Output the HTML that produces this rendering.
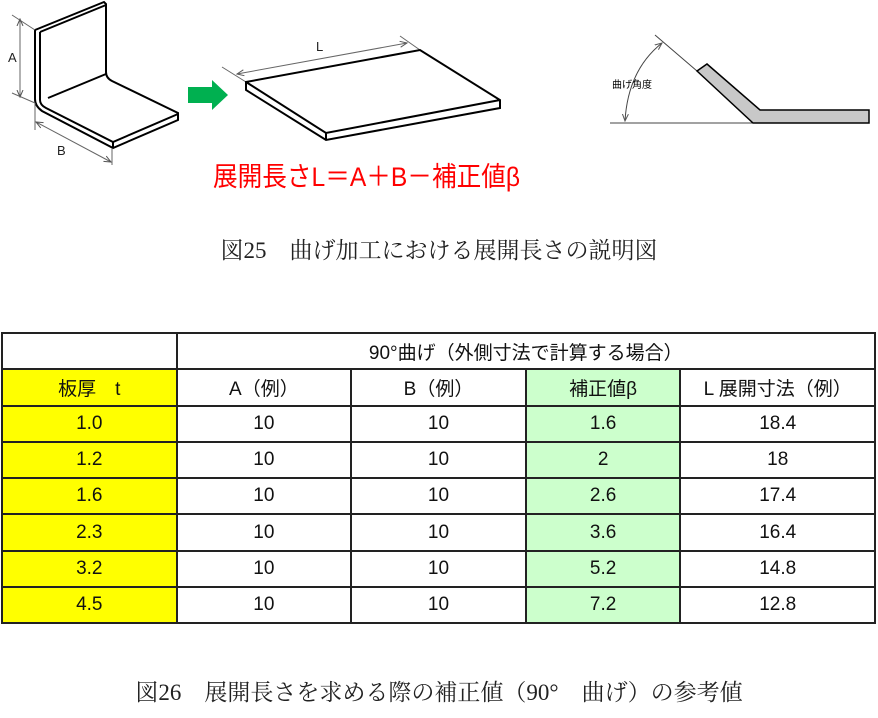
<!DOCTYPE html>
<html><head><meta charset="utf-8"><style>
body{margin:0;width:878px;height:718px;background:#fff;position:relative;overflow:hidden;font-family:"Liberation Sans","Noto Sans CJK JP",sans-serif}
.cap{position:absolute;left:0;width:878px;text-align:center;font-family:"Liberation Serif","Noto Serif CJK SC",serif;font-size:23px;color:#222}
table{position:absolute;left:1px;top:332px;border-collapse:collapse;width:875px}
td{border:2px solid #222;height:34.3px;padding:0;text-align:center;font-size:19px;color:#111}
.y{background:#ffff00}.g{background:#ccffcc}
</style></head><body>
<svg width="878" height="230" style="position:absolute;left:0;top:0" stroke="#000" fill="none">
<defs><marker id="a" markerWidth="8" markerHeight="8" refX="7" refY="4" orient="auto-start-reverse"><path d="M0,1 L7,4 L0,7" stroke="#555" stroke-width="1"/></marker></defs>
<g stroke-width="2">
<path d="M35,30 L104,2 L106,4 L106,72 Q106,78 112,81 L178,113 L178,120 L113,148 L42,111 Q35,106 35,99 Z" fill="#fff"/>
<path d="M40,32 L106,5 M40,32 L40,100 Q40,105 46,108 L113,142 L178,114 M113,142 L113,148 M48,98 L106,74"/>
</g>
<g stroke="#666" stroke-width="1">
<path d="M12,15 L35,30 M12,93 L35,103 M35,103 L35,130 M112,148 L112,165"/>
<path d="M20,19 L20,97" marker-start="url(#a)" marker-end="url(#a)"/>
<path d="M36,122 L111,162" marker-start="url(#a)" marker-end="url(#a)"/>
<path d="M222,67 L246,82 M400,36 L420,50"/>
<path d="M237,74 L407,43" marker-start="url(#a)" marker-end="url(#a)"/>
<path d="M324,69 L402,118" stroke-dasharray="8,2,1,2"/>
</g>
<g fill="#222" stroke="none" font-size="13" font-family="Liberation Sans,sans-serif">
<text x="8" y="62">A</text><text x="57" y="155">B</text><text x="316" y="51">L</text>
</g>
<path d="M188,87 L212,87 L212,80 L228,95 L212,110 L212,103 L188,103 Z" fill="#00b050" stroke="none"/>
<g stroke-width="2">
<path d="M246,82 L420,50 L500,100 L500,108 L326,140 L246,90 Z" fill="#fff"/>
<path d="M246,82 L326,133 L500,100 M326,133 L326,140"/>
</g>
<path d="M610,123 L755,123 M655,35 L697,71" stroke="#444" stroke-width="1"/>
<path d="M697,71 L707,64 L760,110 L869,110 L869,123 L753,123 Z" fill="#c8c8c8" stroke-width="1.5"/>
<path d="M625,121 Q628,70 662,43" stroke="#444" stroke-width="1" marker-start="url(#a)" marker-end="url(#a)"/>
<text x="612" y="88" font-size="10" fill="#000" stroke="none" font-family="Liberation Sans,Noto Sans CJK JP,sans-serif">曲げ角度</text>
<text x="213" y="186" font-size="27" fill="#ff0000" stroke="none" font-family="Liberation Sans,Noto Sans CJK JP,sans-serif" textLength="307" lengthAdjust="spacingAndGlyphs">展開長さL＝A＋B－補正値β</text>
</svg>
<div class="cap" style="top:232px">図25　曲げ加工における展開長さの説明図</div>
<table>
<colgroup><col style="width:175px"><col style="width:175px"><col style="width:175px"><col style="width:155px"><col style="width:195px"></colgroup>
<tr><td></td><td colspan="4">90°曲げ（外側寸法で計算する場合）</td></tr>
<tr><td class="y">板厚　t</td><td>A（例）</td><td>B（例）</td><td class="g">補正値β</td><td>L 展開寸法（例）</td></tr>
<tr><td class="y">1.0</td><td>10</td><td>10</td><td class="g">1.6</td><td>18.4</td></tr>
<tr><td class="y">1.2</td><td>10</td><td>10</td><td class="g">2</td><td>18</td></tr>
<tr><td class="y">1.6</td><td>10</td><td>10</td><td class="g">2.6</td><td>17.4</td></tr>
<tr><td class="y">2.3</td><td>10</td><td>10</td><td class="g">3.6</td><td>16.4</td></tr>
<tr><td class="y">3.2</td><td>10</td><td>10</td><td class="g">5.2</td><td>14.8</td></tr>
<tr><td class="y">4.5</td><td>10</td><td>10</td><td class="g">7.2</td><td>12.8</td></tr>
</table>
<div class="cap" style="top:674px">図26　展開長さを求める際の補正値（90°　曲げ）の参考値</div>
</body></html>
